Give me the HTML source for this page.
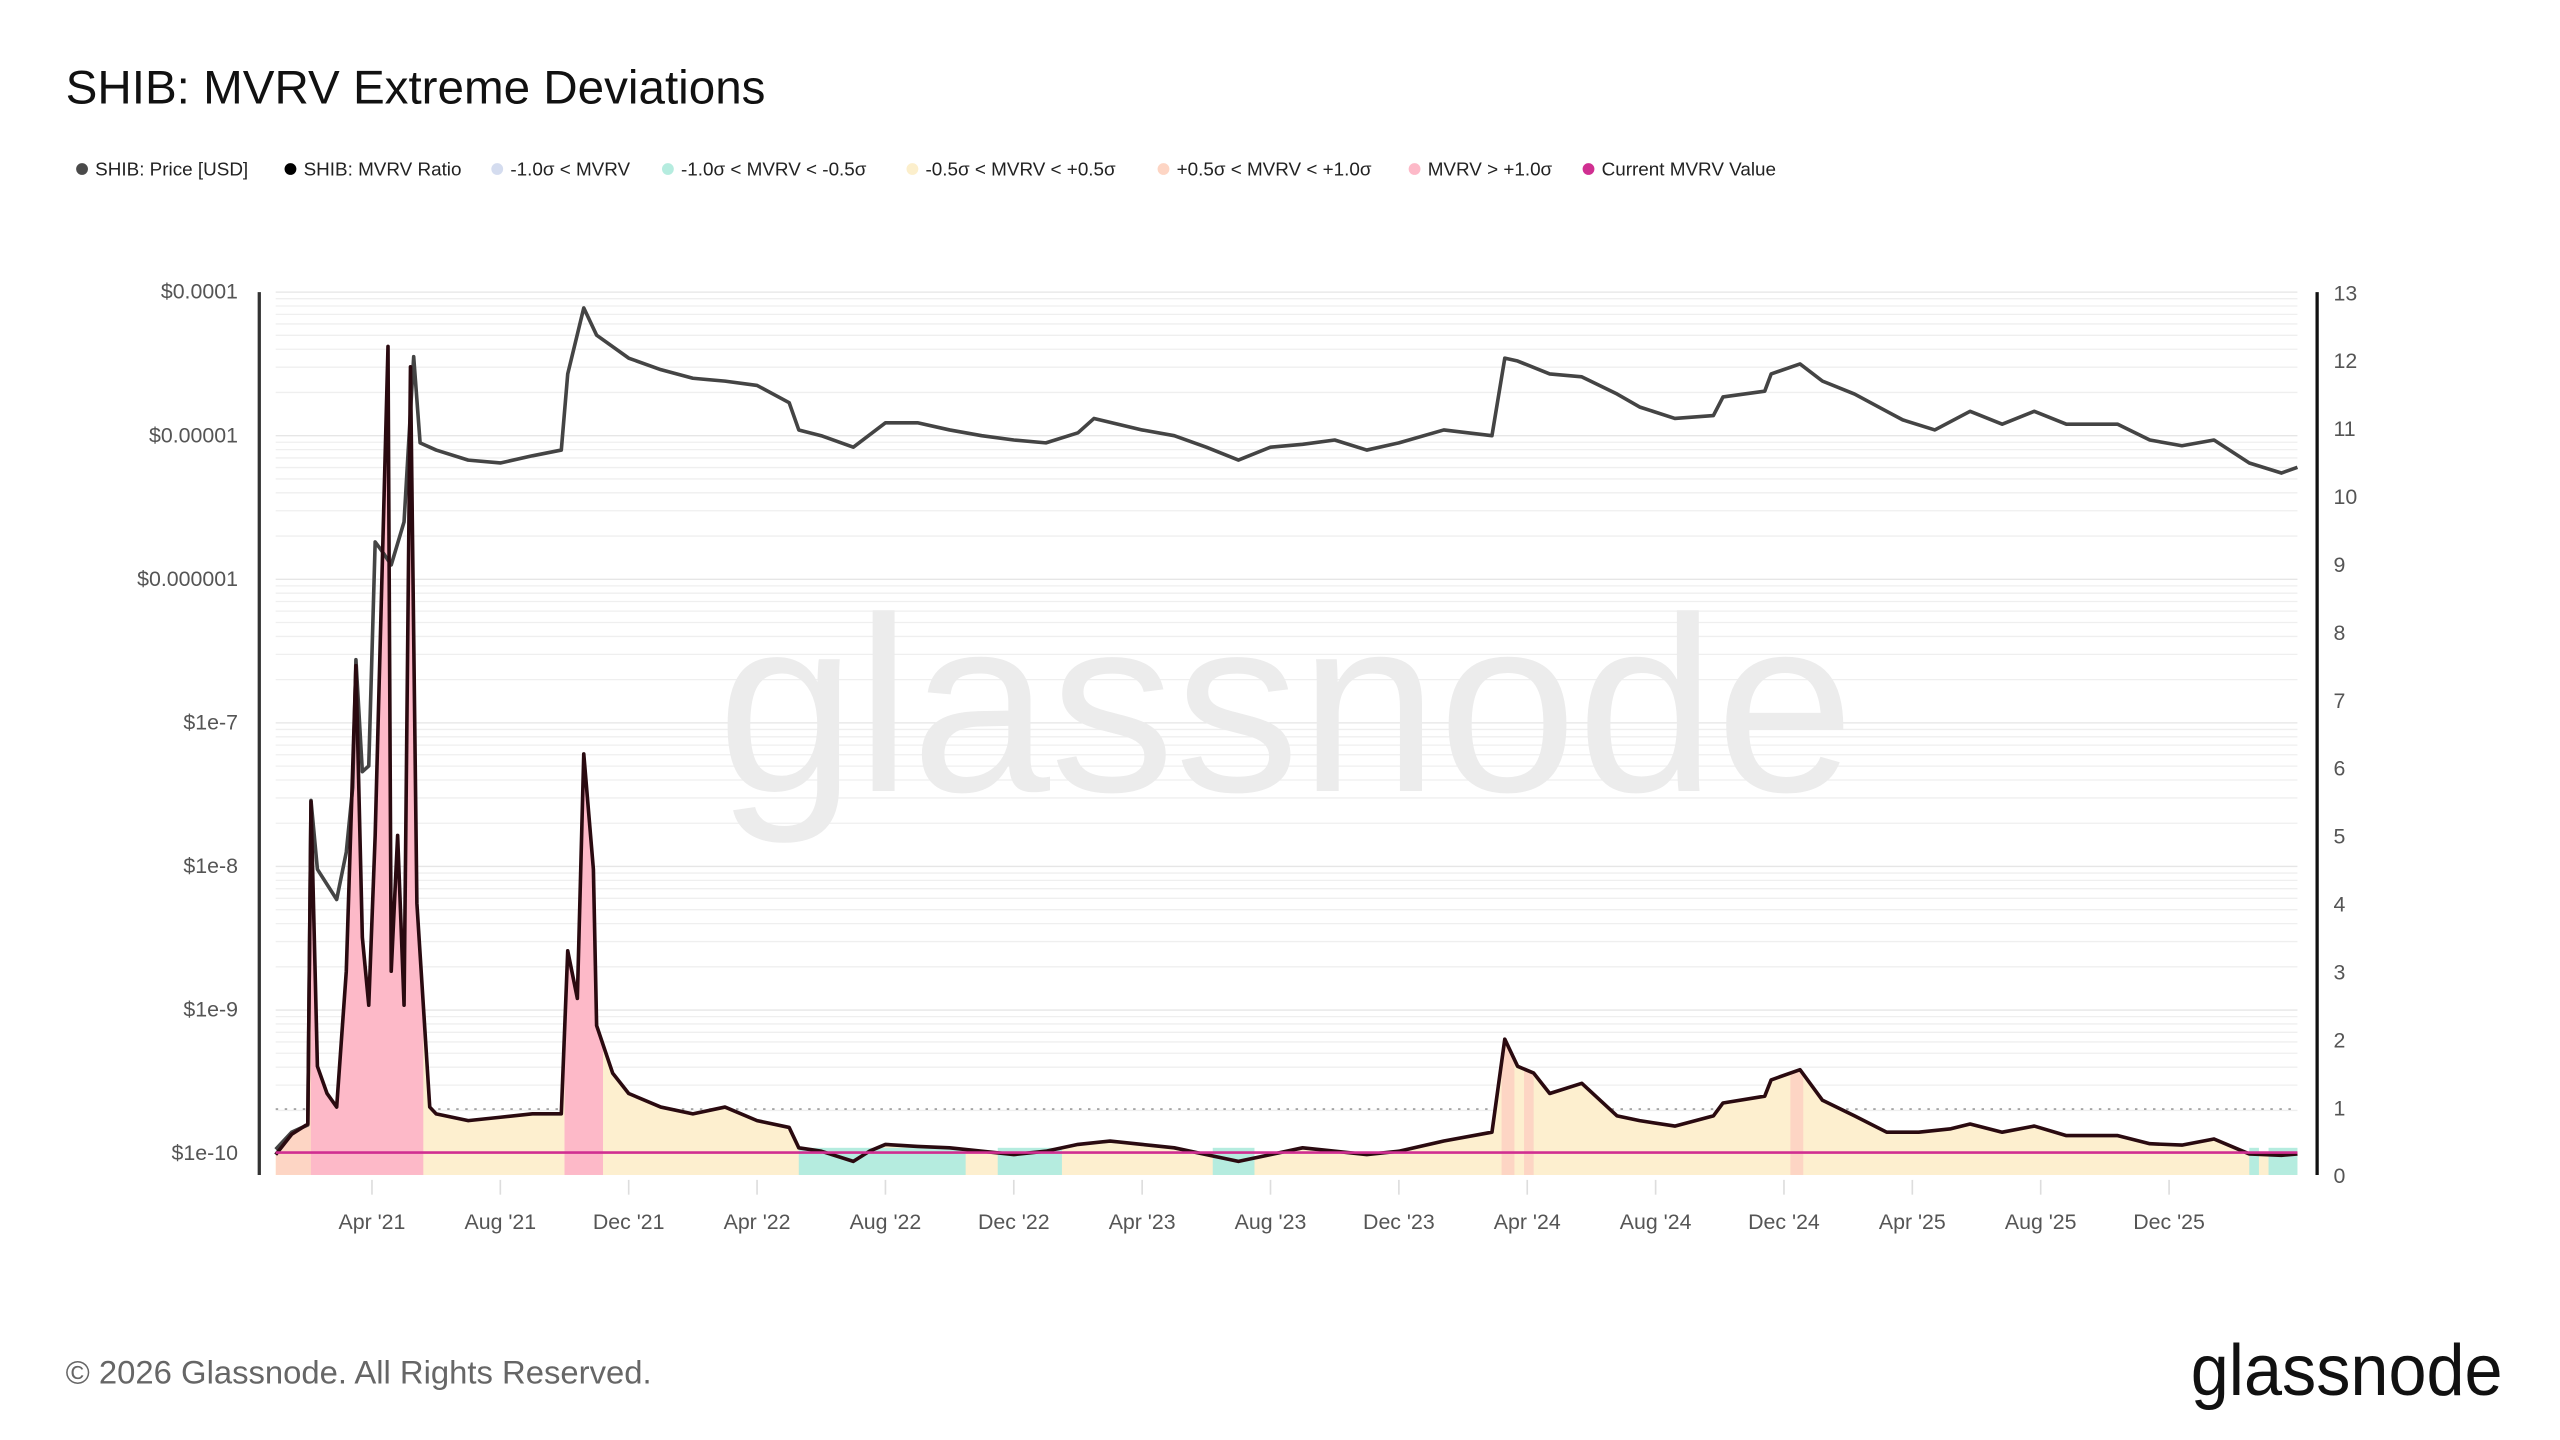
<!DOCTYPE html>
<html><head><meta charset="utf-8">
<style>
html,body{margin:0;padding:0;background:#fff;}
svg{display:block;font-family:"Liberation Sans",sans-serif;}
</style></head>
<body>
<svg id="chart" width="2560" height="1440" viewBox="0 0 1560 877.5" xmlns="http://www.w3.org/2000/svg">
<rect x="0" y="0" width="1560" height="877.5" fill="#ffffff"/>
<text x="40" y="63" font-size="29" fill="#111">SHIB: MVRV Extreme Deviations</text>
<g id="legend" font-size="11.5" fill="#222"></g>
<g id="grid"></g>
<text x="437" y="482" font-size="152" fill="#ececec" textLength="693" lengthAdjust="spacingAndGlyphs">glassnode</text>
<g id="zones"></g>
<g id="series"></g>
<g id="axes" font-size="13" fill="#555"></g>
<text x="40" y="843" font-size="20" fill="#666">© 2026 Glassnode. All Rights Reserved.</text>
<text x="1525" y="850" font-size="44" text-anchor="end" fill="#111" textLength="190" lengthAdjust="spacingAndGlyphs">glassnode</text>
</svg>
<script>
// ---- data (t = months since Jan 2021) ----
const priceT = [0,0.5,1.0,1.1,1.3,1.9,2.2,2.4,2.5,2.7,2.9,3.1,3.3,3.6,4.0,4.3,4.5,5,6,7,8,8.9,9.1,9.6,10,11,12,13,14,15,16,16.3,17,18,19,20,21,22,23,24,25,25.5,27,28,29,30,31,32,33,34,35,36.4,37.9,38.3,38.7,39.7,40.7,41.8,42.5,43.6,44.8,45.1,46.4,46.6,47.5,48.2,49.2,50.2,50.7,51.7,52.8,53.8,54.8,55.8,57.4,58.4,59.4,60.4,61.5,62.5,63];
const priceY = [-9.97,-9.85,-9.8,-7.54,-8.02,-8.23,-7.9,-7.45,-6.56,-7.34,-7.3,-5.74,-5.8,-5.9,-5.6,-4.45,-5.05,-5.1,-5.17,-5.19,-5.14,-5.1,-4.57,-4.11,-4.3,-4.46,-4.54,-4.6,-4.62,-4.65,-4.77,-4.96,-5.0,-5.08,-4.91,-4.91,-4.96,-5.0,-5.03,-5.05,-4.98,-4.88,-4.96,-5.0,-5.08,-5.17,-5.08,-5.06,-5.03,-5.1,-5.05,-4.96,-5.0,-4.46,-4.48,-4.57,-4.59,-4.71,-4.80,-4.88,-4.86,-4.73,-4.69,-4.57,-4.50,-4.62,-4.71,-4.83,-4.89,-4.96,-4.83,-4.92,-4.83,-4.92,-4.92,-5.03,-5.07,-5.03,-5.19,-5.26,-5.22];
const mvrvT = [0,0.5,1.0,1.1,1.3,1.6,1.9,2.2,2.5,2.7,2.9,3.1,3.5,3.6,3.8,4.0,4.2,4.4,4.6,4.8,5,6,7,8,8.9,9.1,9.4,9.6,9.9,10,10.5,11,12,13,14,15,16,16.3,17,18,18.5,19,20,21,22,23,24,25,26,27,28,29,30,31,32,33,34,35,36.4,37.9,38.3,38.7,39.2,39.7,40.7,41.8,42.5,43.6,44.8,45.1,46.4,46.6,47.5,48.2,49.2,50.2,51.2,52.2,52.8,53.8,54.8,55.8,57.4,58.4,59.4,60.4,61.5,62.5,63];
const mvrvV = [0.3,0.6,0.75,5.5,1.6,1.2,1.0,3.0,7.5,3.5,2.5,5.0,12.2,3.0,5.0,2.5,11.9,4.0,2.5,1.0,0.9,0.8,0.85,0.9,0.9,3.3,2.6,6.2,4.5,2.2,1.5,1.2,1.0,0.9,1.0,0.8,0.7,0.4,0.35,0.2,0.35,0.45,0.42,0.4,0.35,0.3,0.35,0.45,0.5,0.45,0.4,0.3,0.2,0.3,0.4,0.35,0.3,0.35,0.5,0.63,2.0,1.6,1.5,1.2,1.35,0.87,0.8,0.72,0.87,1.06,1.16,1.4,1.55,1.1,0.87,0.63,0.63,0.68,0.75,0.63,0.72,0.58,0.58,0.46,0.44,0.53,0.31,0.29,0.31];
const zoneStart = [0.0,1.1,9.0,16.3,22.5,29.2,38.2,38.9,47.2,61.5,62.1];
const zoneEnd   = [1.1,4.6,10.2,21.5,24.5,30.5,38.6,39.2,47.6,61.8,63.0];
const zoneKind  = ['peach','pink','pink','teal','teal','teal','peach','peach','peach','teal','teal'];
const currentMvrv = 0.33;
const leftTicks = ['$0.0001','$0.00001','$0.000001','$1e-7','$1e-8','$1e-9','$1e-10'];
const leftTickExp = [-4,-5,-6,-7,-8,-9,-10];
const rightTicks = [0,1,2,3,4,5,6,7,8,9,10,11,12,13];
const xTickLabels = ["Apr '21","Aug '21","Dec '21","Apr '22","Aug '22","Dec '22","Apr '23","Aug '23","Dec '23","Apr '24","Aug '24","Dec '24","Apr '25","Aug '25","Dec '25"];
const xTickT = [3,7,11,15,19,23,27,31,35,39,43,47,51,55,59];
const legendLabels = ['SHIB: Price [USD]','SHIB: MVRV Ratio','-1.0σ < MVRV','-1.0σ < MVRV < -0.5σ','-0.5σ < MVRV < +0.5σ','+0.5σ < MVRV < +1.0σ','MVRV > +1.0σ','Current MVRV Value'];
const legendColors = ['#4a4a4a','#000','#d4dcef','#b5ecdf','#fcefcc','#fdd5c4','#fdb9c8','#d02f91'];

// ---- scales ----
const X0=168, X1=1400, Y0=178, Y1=716;
const xs = t => X0 + t*(X1-X0)/63;
const yL = e => Y0 + (-4 - e)*87.5;
const yR = v => Y1 - v*(Y1-Y0)/13;
const NS='http://www.w3.org/2000/svg';
function mk(tag, attrs, parent){const el=document.createElementNS(NS,tag);for(const k in attrs)el.setAttribute(k,attrs[k]);parent.appendChild(el);return el;}

// legend
const lg=document.getElementById('legend');
const lgx=[50,177,303,407,556,709,862,968];
legendLabels.forEach((l,i)=>{
  const c=mk('circle',{cx:lgx[i],cy:103,r:3.6,fill:legendColors[i]},lg);
  
  
  const t=mk('text',{x:lgx[i]+8,y:107},lg);t.textContent=l;
  
  
});

// grid
const gr=document.getElementById('grid');
for(let e=-10;e<=-5;e++){for(let m=1;m<10;m++){const y=yL(e+Math.log10(m));
  const ln=mk('line',{x1:X0,x2:X1,y1:y,y2:y,stroke:m===1?'#e6e6e6':'#efefef','stroke-width':0.8},gr);
  
  }}
{const y=yL(-4);const ln=mk('line',{x1:X0,x2:X1,y1:y,y2:y,stroke:'#e6e6e6','stroke-width':0.8},gr);
}
const dl=mk('line',{x1:X0,x2:X1,y1:yR(0.97),y2:yR(0.97),stroke:'#999','stroke-width':1,'stroke-dasharray':'1.5 4'},gr);



// zones & fill
const zn=document.getElementById('zones');
const defs=mk('defs',{},zn);
const cp=mk('clipPath',{id:'areaClip'},defs);
let ad='M'+xs(mvrvT[0])+','+Y1;
mvrvT.forEach((t,i)=>{ad+=' L'+xs(t).toFixed(2)+','+yR(mvrvV[i]).toFixed(2);});
ad+=' L'+xs(mvrvT[mvrvT.length-1])+','+Y1+' Z';
mk('path',{d:ad},cp);
const area=mk('path',{d:ad,fill:'#fdefcf'},zn);


const zc={pink:'#fdb9c8',peach:'#fdd5c4',teal:'#b5ecdf'};
zoneStart.forEach((s,i)=>{
  const k=zoneKind[i];
  const yTop = k==='teal'? yR(0.4) : Y0;
  const r=mk('rect',{x:xs(s),y:yTop,width:xs(zoneEnd[i])-xs(s),height:Y1-yTop,fill:zc[k]},zn);
  if(k!=='teal') r.setAttribute('clip-path','url(#areaClip)');
  
  
});

// series
const sr=document.getElementById('series');
let pd='';priceT.forEach((t,i)=>{pd+=(i?' L':'M')+xs(t).toFixed(2)+','+yL(priceY[i]).toFixed(2);});
const pl=mk('path',{d:pd,fill:'none',stroke:'#444','stroke-width':2.2,'stroke-linejoin':'round'},sr);


let md='';mvrvT.forEach((t,i)=>{md+=(i?' L':'M')+xs(t).toFixed(2)+','+yR(mvrvV[i]).toFixed(2);});
const ml=mk('path',{d:md,fill:'none',stroke:'#2a0a10','stroke-width':2.2,'stroke-linejoin':'round'},sr);


const cl=mk('line',{x1:X0,x2:X1,y1:yR(currentMvrv),y2:yR(currentMvrv),stroke:'#d02f91','stroke-width':1.6},sr);



// axes
const ax=document.getElementById('axes');
const la=mk('line',{x1:158,x2:158,y1:Y0,y2:Y1,stroke:'#333','stroke-width':2},ax);

const ra=mk('line',{x1:1412,x2:1412,y1:Y0,y2:Y1,stroke:'#111','stroke-width':2},ax);

leftTicks.forEach((l,i)=>{const t=mk('text',{x:145,y:yL(leftTickExp[i])+4,'text-anchor':'end'},ax);t.textContent=l;
  });
rightTicks.forEach(v=>{const t=mk('text',{x:1422,y:yR(v)+5},ax);t.textContent=v;
  });
xTickLabels.forEach((l,i)=>{const x=xs(xTickT[i]);
  const tk=mk('line',{x1:x,x2:x,y1:Y1+3,y2:Y1+12,stroke:'#ddd','stroke-width':1},ax);
  
  const t=mk('text',{x:x,y:749,'text-anchor':'middle'},ax);t.textContent=l;
  });
</script>
</body></html>
